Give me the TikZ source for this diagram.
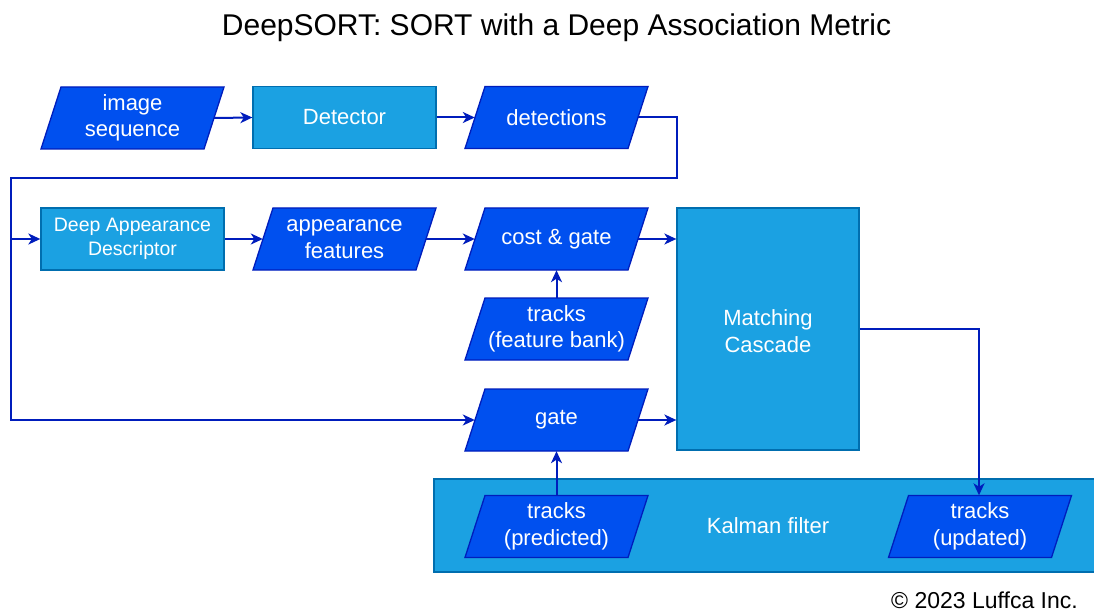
\documentclass[tikz,border=0pt]{standalone}
\usepackage{fontspec}
\setmainfont{Liberation Sans}
\usetikzlibrary{arrows.meta,calc}
\definecolor{pfill}{HTML}{0050EF}
\definecolor{pdraw}{HTML}{001DBC}
\definecolor{rfill}{HTML}{1BA1E2}
\definecolor{rdraw}{HTML}{006EAF}
\definecolor{edgec}{HTML}{001DBC}
\newcommand\fsz[2]{\fontsize{#1pt}{#2pt}\selectfont}
\tikzset{
  paratext/.style={minimum width=163pt, minimum height=62pt, inner sep=0pt, text=white, align=center, font=\fsz{22}{26.5}},
  parashape/.style={fill=pfill, draw=pdraw, line width=1.3pt},
  rbox/.style={draw=rdraw, fill=rfill, line width=1.3pt, text=white, align=center, inner sep=0pt, minimum width=183pt, minimum height=62pt, font=\fsz{22}{26.5}},
  conn/.style={draw=edgec, line width=2pt, -{Stealth[length=12pt,width=11pt,inset=3.5pt]}},
}
\newcommand\paranode[3]{%
  \path[parashape,shift={#2}] (-71.5,-31) -- (91.5,-31) -- (71.5,31) -- (-91.5,31) -- cycle;
  \node[paratext] (#1) at #2 {#3};
}
\begin{document}
\begin{tikzpicture}[x=1pt,y=-1pt]
\useasboundingbox (0,0) rectangle (1094,612);
% title
\node[font=\fsz{30}{35}] (title) at (556.5,28) {DeepSORT: SORT with a Deep Association Metric};
% Kalman filter container
\node[rbox, minimum width=668pt, minimum height=93pt] (kf) at (768,525.5) {Kalman filter};
% row 1
\paranode{ims}{(132.5,118)}{image\\sequence}
\node[rbox] (det) at (344.5,117.5) {Detector};
\paranode{dets}{(556.5,117.5)}{detections}
% row 2
\node[rbox, font=\fsz{19.5}{24}] (dad) at (132.5,239) {Deep Appearance\\Descriptor};
\paranode{af}{(344.5,239)}{appearance\\features}
\paranode{cg}{(556.5,239)}{cost \& gate}
\node[rbox, minimum width=182pt, minimum height=242pt] (mc) at (768,329) {};
\node[text=white, align=center, font=\fsz{22}{26.5}] (mct) at (768,331) {Matching\\Cascade};
\paranode{fb}{(556.5,329)}{tracks\\(feature bank)}
\paranode{gate}{(556.5,420)}{gate}
\paranode{tp}{(556.5,526.5)}{tracks\\(predicted)}
\paranode{tu}{(980,526.5)}{tracks\\(updated)}
% copyright
\node[anchor=east, font=\fsz{23}{27}, inner sep=0pt] (copy) at (1078,600) {© 2023 Luffca Inc.};
% connectors
\coordinate (c1) at (677,117.5);
\coordinate (c2) at (677,178);
\coordinate (c3) at (11,178);
\coordinate (c4) at (11,239);
\coordinate (c5) at (11,420);
\coordinate (c6) at (979,329);
\draw[conn] (ims.east) -- (det.west);
\draw[conn] (det.east) -- (dets.west);
\draw[conn] (dets.east) -- (c1) -- (c2) -- (c3) -- (c5) -- (gate.west);
\draw[conn] (c4) -- (dad.west);
\draw[conn] (dad.east) -- (af.west);
\draw[conn] (af.east) -- (cg.west);
\draw[conn] (cg.east) -- (mc.west |- cg.east);
\draw[conn] (fb.north) -- (cg.south);
\draw[conn] (gate.east) -- (mc.west |- gate.east);
\draw[conn] (tp.north) -- (gate.south);
\draw[conn] (mc.east |- c6) -- (c6) -- (c6 |- tu.north);
\end{tikzpicture}
\end{document}
